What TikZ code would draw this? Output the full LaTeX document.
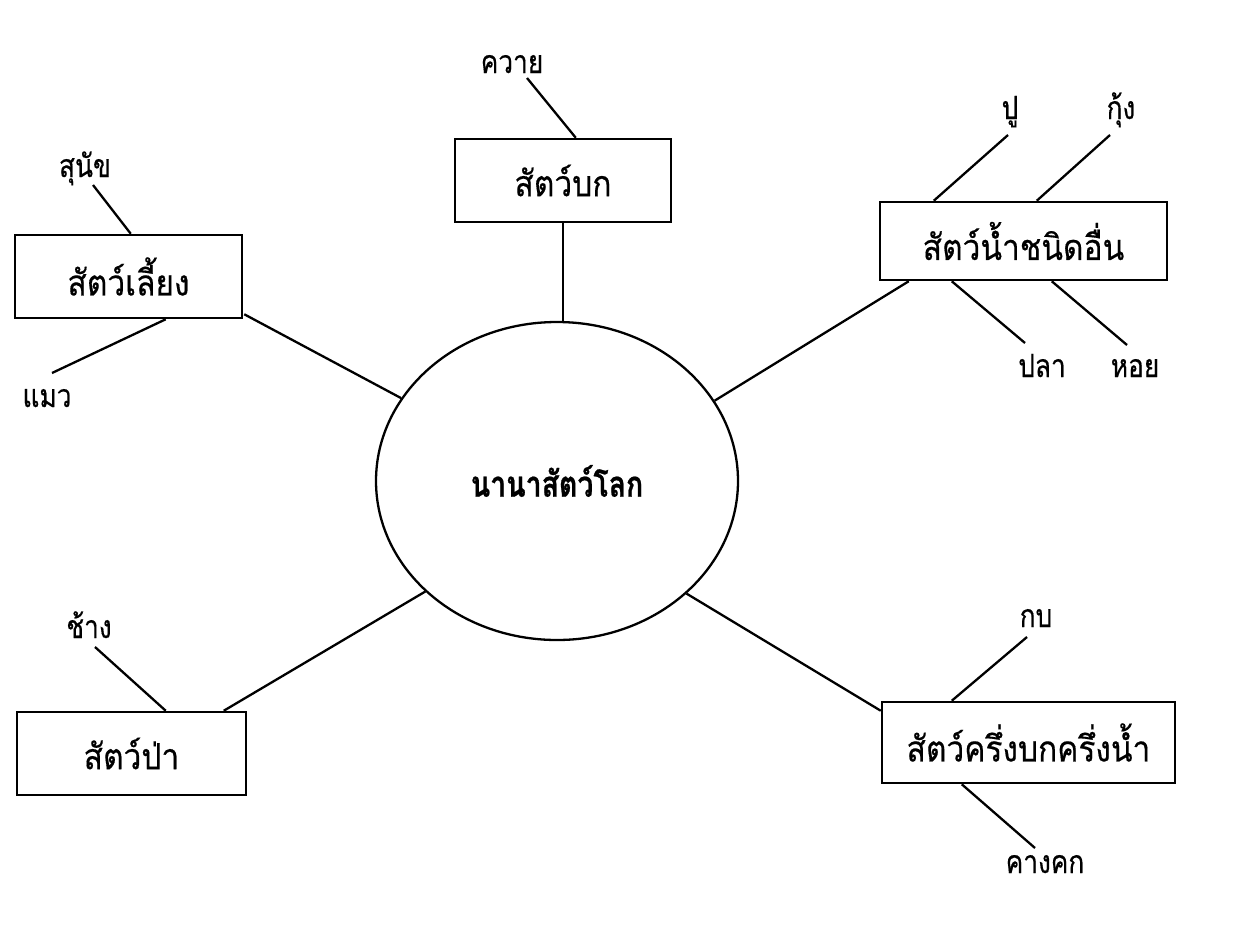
\documentclass[tikz,border=0pt]{standalone}
\usepackage{fontspec}
\newfontfamily\thailbl[Script=Thai,FakeStretch=0.82,FakeBold=0.4]{Loma}
\newfontfamily\thaibox[Script=Thai,FakeStretch=0.88,FakeBold=0.4]{Loma}
\newfontfamily\thaihub[Script=Thai,FakeStretch=0.79,FakeBold=0.6]{Loma}
\usetikzlibrary{shapes.geometric,calc}
\tikzset{
  box/.style={draw, line width=2.5pt, rectangle, inner sep=0pt, font=\thaibox\fontsize{36}{42}\selectfont},
  lbl/.style={inner sep=0pt, anchor=base, font=\thailbl\fontsize{32}{38}\selectfont},
  conn/.style={line width=2.3pt},
  hub/.style={draw, line width=2.3pt, ellipse, inner sep=0pt, minimum width=362pt, minimum height=318pt, font=\thaihub\bfseries\fontsize{36}{42}\selectfont}
}
\begin{document}
\begin{tikzpicture}[x=1pt,y=-1pt]
\useasboundingbox[fill=white] (0,0) rectangle (1250,951);
% hub
\node[hub] (c) at (557,481) {นานาสัตว์โลก};
% boxes
\node[box, minimum width=227pt, minimum height=83pt] (pet) at (128.5,276.5) {สัตว์เลี้ยง};
\node[box, minimum width=216pt, minimum height=83pt] (land) at (563,180.5) {สัตว์บก};
\node[box, minimum width=287pt, minimum height=78pt] (water) at (1023.5,241) {สัตว์น้ำชนิดอื่น};
\node[box, minimum width=293pt, minimum height=81pt] (amph) at (1028.5,742.5) {สัตว์ครึ่งบกครึ่งน้ำ};
\node[box, minimum width=229pt, minimum height=83pt] (wild) at (131.5,753.5) {สัตว์ป่า};
% labels (positioned at their baselines)
\node[lbl] (dog) at (85,177) {สุนัข};
\node[lbl] (cat) at (47,407) {แมว};
\node[lbl] (buffalo) at (512,73) {ควาย};
\node[lbl] (crab) at (1010,119) {ปู};
\node[lbl] (shrimp) at (1121,119) {กุ้ง};
\node[lbl] (fish) at (1042,377) {ปลา};
\node[lbl] (shell) at (1135,377) {หอย};
\node[lbl] (frog) at (1036,627) {กบ};
\node[lbl] (toad) at (1045,873) {คางคก};
\node[lbl] (elephant) at (89,638) {ช้าง};
% hub connectors
\draw[conn] ($(pet.south east)+(1,-5)$) -- (c.152);
\draw[conn] (land.south) -- (land.south |- c.north);
\draw[conn] ($(water.south west)+(30,0)$) -- (c.27);
\draw[conn] ($(amph.north west)+(0,10)$) -- (c.-41);
\draw[conn] ($(wild.north west)+(208,0)$) -- (c.220);
% leaf connectors
\draw[conn] ($(dog.base)+(8,8)$) -- ($(pet.north west)+(117,0)$);
\draw[conn] ($(cat.base)+(5,-34)$) -- ($(pet.south west)+(152,0)$);
\draw[conn] ($(buffalo.base)+(15,5)$) -- ($(land.north west)+(122,0)$);
\draw[conn] ($(crab.base)+(-2,16)$) -- ($(water.north west)+(55,0)$);
\draw[conn] ($(shrimp.base)+(-11,16)$) -- ($(water.north west)+(158,0)$);
\draw[conn] ($(fish.base)+(-17,-34)$) -- ($(water.south west)+(73,0)$);
\draw[conn] ($(shell.base)+(-8,-32)$) -- ($(water.south west)+(173,0)$);
\draw[conn] ($(frog.base)+(-9,10)$) -- ($(amph.north west)+(71,0)$);
\draw[conn] ($(toad.base)+(-10,-25)$) -- ($(amph.south west)+(81,0)$);
\draw[conn] ($(elephant.base)+(6,9)$) -- ($(wild.north west)+(150,0)$);
\end{tikzpicture}
\end{document}
